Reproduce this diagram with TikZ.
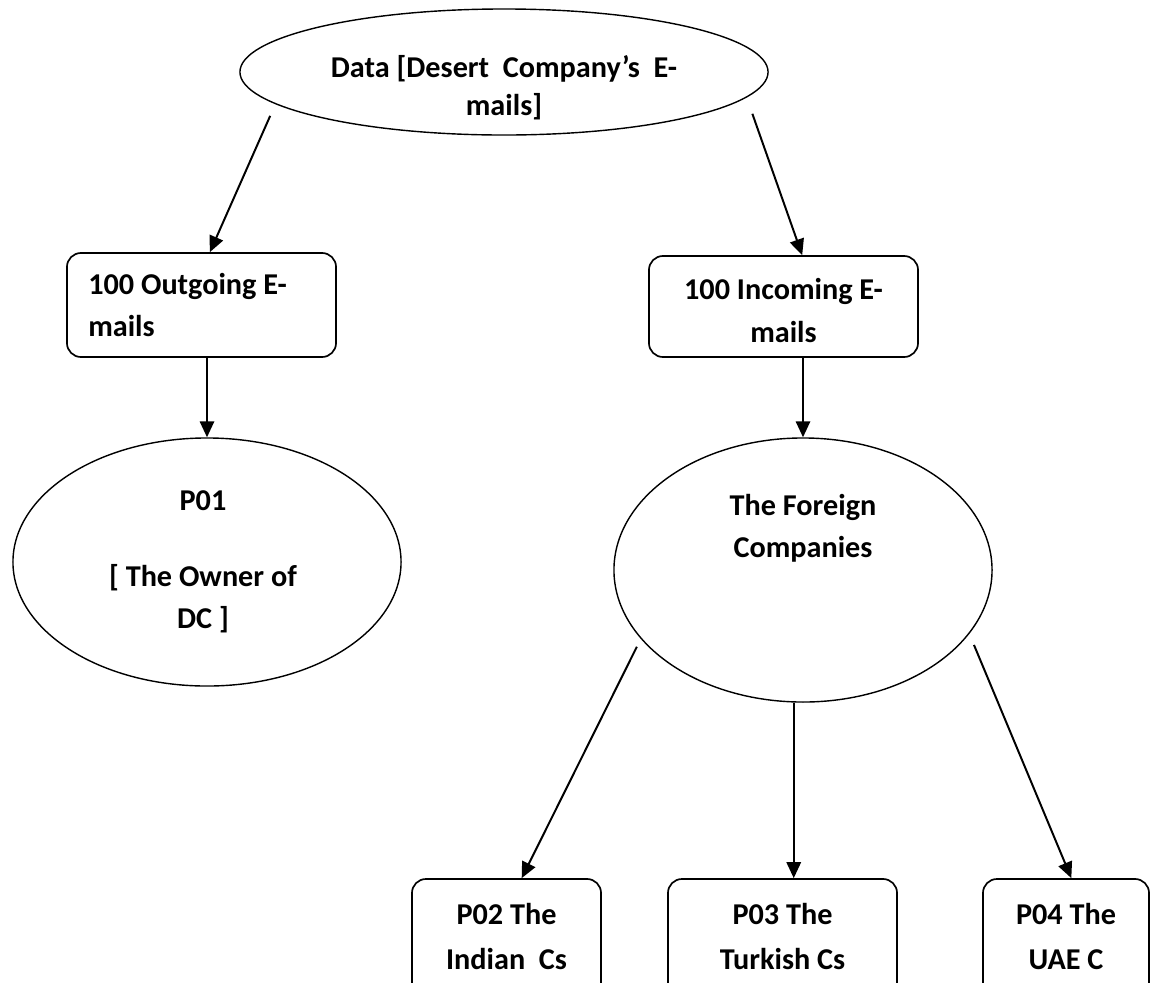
\documentclass[tikz,border=0pt]{standalone}
\usepackage{fontspec}
\setmainfont{Carlito}
\usetikzlibrary{shapes.geometric,arrows.meta}

\tikzset{
  txt/.style={font=\fontsize{21.5}{30}\selectfont\bfseries,align=center},
  oval/.style={ellipse,draw,line width=1pt,inner sep=0pt},
  rbox/.style={rectangle,rounded corners=0.35cm,draw,line width=1.2pt,inner sep=0pt},
  every label/.style={txt}
}

\begin{document}
\begin{tikzpicture}[x=0.025cm,y=-0.025cm,>={Triangle[length=0.4cm,width=0.36cm]},line width=1.4pt]
	\clip (0,0) rectangle (1152,982);
	% top level
	\node[oval,minimum width=13.2cm,minimum height=3.15cm,
		label={[yshift=-0.4cm]center:{Data [Desert\ \ Company’s\ \ E-\\[-0.1cm]mails]}}] (data) at (504,72) {};
	% e-mail groups
	\node[rbox,minimum width=6.725cm,minimum height=2.6cm,
		label={[align=left,xshift=-0.35cm]center:{100 Outgoing E-\\mails}}] (out) at (201.5,305) {};
	\node[rbox,minimum width=6.725cm,minimum height=2.525cm,
		label={[yshift=-0.1cm]center:{100 Incoming E-\\mails}}] (in) at (783.5,306.5) {};
	% parties
	\node[oval,minimum width=9.7cm,minimum height=6.2cm,
		label={[xshift=-0.1cm]center:{P01\\[0.85cm][ The Owner of\\DC ]}}] (p01) at (207,562) {};
	\node[oval,minimum width=9.45cm,minimum height=6.6cm,
		label={[yshift=1.04cm]center:{The Foreign\\Companies}}] (foreign) at (803,570) {};
	\node[rbox,minimum width=4.725cm,minimum height=3cm,
		label={[yshift=0.06cm]center:{P02 The\\[0.07cm]Indian\ \ Cs}}] (p02) at (506.5,939) {};
	\node[rbox,minimum width=5.725cm,minimum height=3cm,
		label={[yshift=0.06cm]center:{P03 The\\[0.07cm]Turkish Cs}}] (p03) at (782.5,939) {};
	\node[rbox,minimum width=4.15cm,minimum height=3cm,
		label={[yshift=0.06cm]center:{P04 The\\[0.07cm]UAE C}}] (p04) at (1066,939) {};
	\path[->]
		(data.188) edge[shorten <=0.32cm] (out.81)
		(data.354) edge[shorten <=0.43cm] (in.70)
		(out.south -| p01.north) edge (p01.north)
		(in.south -| foreign.north) edge (foreign.north)
		(foreign.203) edge[shorten <=0.22cm] (p02.76)
		(foreign.266) edge (foreign.266 |- p03.north)
		(foreign.339) edge[shorten <=0.3cm] (p04.85);
\end{tikzpicture}
\end{document}
